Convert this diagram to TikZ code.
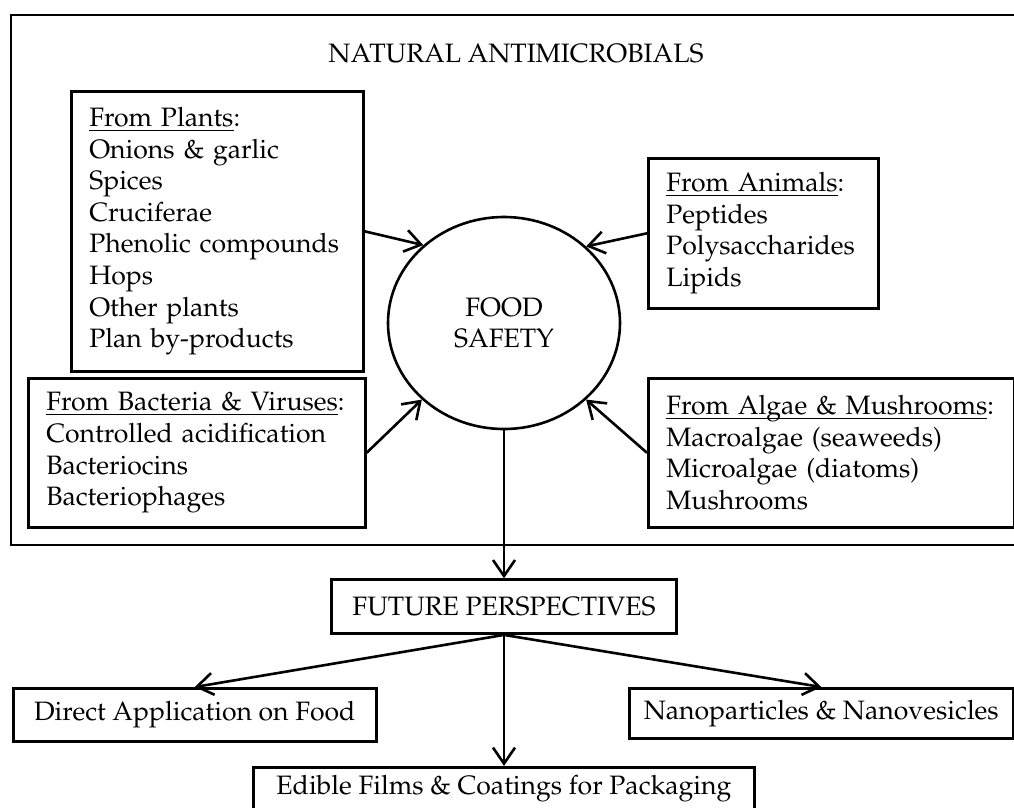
\documentclass[tikz,border=0pt]{standalone}
\usepackage[T1]{fontenc}
\usepackage{mathpazo}
\usetikzlibrary{
    positioning, % posicionamento relativo
    arrows.meta, % pontas de seta
    shapes.geometric % elipse
}
\newcommand{\diagfont}{\fontsize{26.6}{31.6}\selectfont}
\newcommand{\sourcehead}[1]{\underline{\raisebox{0pt}[\height][0pt]{#1}}}

\begin{document}
\begin{tikzpicture}[x=1pt, y=-1pt, font=\diagfont]

    % --- Estilos ---
    \tikzset{
        % caixas das fontes de antimicrobianos
        source_box/.style={
            draw,
            line width=2.6pt,
            anchor=north west,
            align=left,
            inner xsep=18pt,
            inner ysep=0pt
        },
        % caixas das perspectivas
        persp_box/.style={
            draw,
            line width=2.6pt,
            inner sep=0pt,
            text centered
        },
        % elipse central
        food_circle/.style={
            draw,
            ellipse,
            line width=2.6pt,
            inner sep=0pt,
            minimum width=232pt,
            minimum height=212pt,
            align=center
        },
        % setas
        flow_arrow/.style={
            line width=2.6pt,
            -{Straight Barb[length=16pt, width=22pt, line width=2.6pt]}
        }
    }

    \useasboundingbox (0,0) rectangle (1014,807);

    % --- Moldura e titulo ---
    \draw[line width=2.6pt] (1020,15) -| (11,545) -- (1020,545);
    \node[anchor=base] (title) at (516,62) {NATURAL ANTIMICROBIALS};

    % --- Nos ---
    \node[food_circle] (food) at (504,323) {FOOD\\SAFETY};

    \node[source_box, text width=256pt, minimum height=280pt] (plants) at (70,90)
        {\sourcehead{From Plants}:\\Onions \& garlic\\Spices\\Cruciferae\\Phenolic compounds\\Hops\\Other plants\\Plan by-products};
    \node[source_box, text width=194pt, minimum height=150pt] (animals) at (647,157)
        {\sourcehead{From Animals}:\\Peptides\\Polysaccharides\\Lipids};
    \node[source_box, text width=301pt, minimum height=149pt] (bacteria) at (27,377)
        {\sourcehead{From Bacteria \& Viruses}:\\Controlled acidification\\Bacteriocins\\Bacteriophages};
    \node[source_box, text width=330pt, minimum height=149pt] (algae) at (647,377)
        {\sourcehead{From Algae \& Mushrooms}:\\Macroalgae (seaweeds)\\Microalgae (diatoms)\\Mushrooms};

    % perspectivas futuras
    \node[persp_box, minimum width=345pt, minimum height=54pt, below=148pt of food] (future) {FUTURE PERSPECTIVES};
    \node[persp_box, minimum width=363pt, minimum height=53pt, anchor=north west] (direct) at (12,687) {Direct Application on Food};
    \node[persp_box, minimum width=384pt, minimum height=50pt, anchor=north west] (nano) at (628,687) {Nanoparticles \& Nanovesicles};
    \node[persp_box, minimum width=501pt, minimum height=42pt, below=131pt of future] (edible) {Edible Films \& Coatings for Packaging};

    % --- Setas ---
    \draw[flow_arrow] (plants.east) -- (food.136);
    \draw[flow_arrow] (animals.west) -- (food.43);
    \draw[flow_arrow] (bacteria.east) -- (food.223);
    \draw[flow_arrow] (algae.west) -- (food.-43);
    \draw[flow_arrow] (food.south) -- (future.north);

    \draw[flow_arrow] (future.south) -- (direct.north);
    \draw[flow_arrow] (future.south) -- (edible.north);
    \draw[flow_arrow] (future.south) -- (nano.north);

\end{tikzpicture}
\end{document}
